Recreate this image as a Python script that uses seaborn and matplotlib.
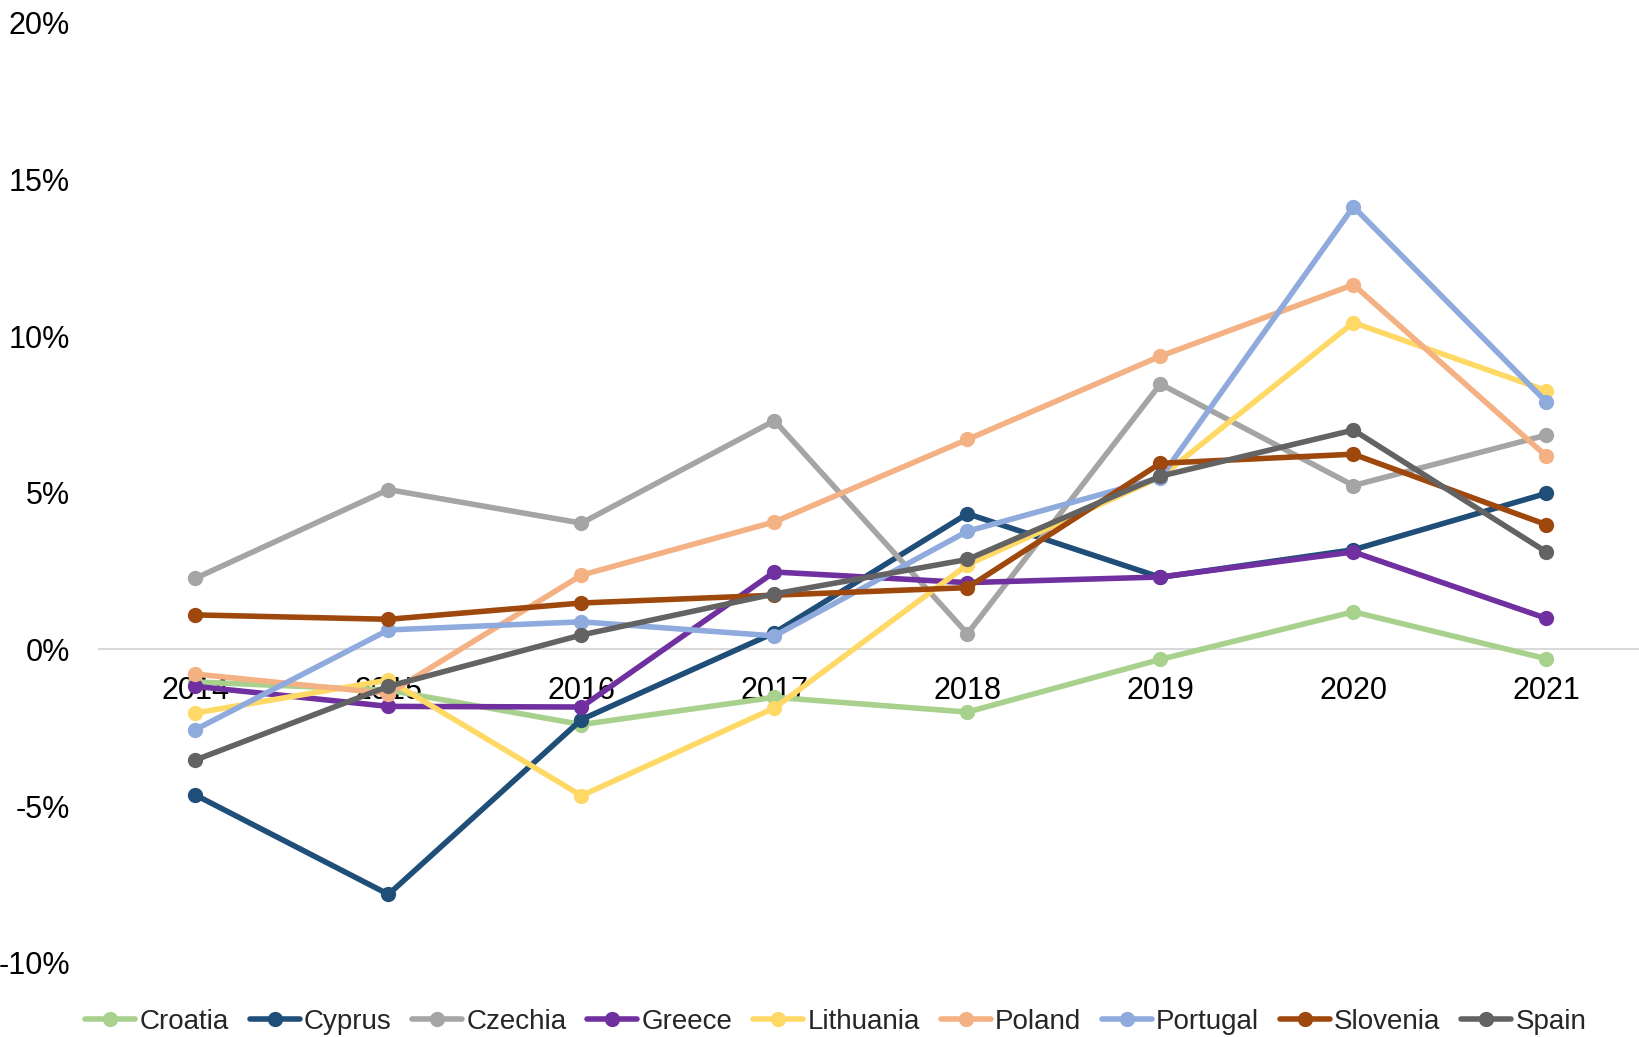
import numpy as np
import pandas as pd
import matplotlib
matplotlib.use("Agg")
import matplotlib.pyplot as plt
from matplotlib import font_manager
from matplotlib.lines import Line2D
import seaborn as sns

years = [2014, 2015, 2016, 2017, 2018, 2019, 2020, 2021]
countries = ["Croatia", "Cyprus", "Czechia", "Greece", "Lithuania",
             "Poland", "Portugal", "Slovenia", "Spain"]

croatia   = [-1.04, -1.30, -2.40, -1.53, -2.00, -0.32, 1.20, -0.30]
cyprus    = [-4.65, -7.82, -2.24, 0.53, 4.33, 2.30, 3.18, 4.98]
czechia   = [2.27, 5.10, 4.03, 7.30, 0.50, 8.47, 5.23, 6.84]
greece    = [-1.18, -1.82, -1.84, 2.47, 2.13, 2.31, 3.11, 0.99]
lithuania = [-2.03, -0.98, -4.67, -1.87, 2.70, 5.50, 10.43, 8.26]
poland    = [-0.79, -1.41, 2.37, 4.07, 6.70, 9.36, 11.64, 6.17]
portugal  = [-2.56, 0.62, 0.88, 0.43, 3.77, 5.47, 14.13, 7.90]
slovenia  = [1.10, 0.96, 1.48, 1.73, 1.97, 5.94, 6.23, 3.98]
spain     = [-3.53, -1.18, 0.46, 1.77, 2.87, 5.53, 7.00, 3.11]

series = [croatia, cyprus, czechia, greece, lithuania, poland, portugal, slovenia, spain]
colors = ["#A9D18E", "#1F4E79", "#A5A5A5", "#7030A0", "#FFD966",
          "#F4B183", "#8FAADC", "#9E480E", "#636363"]
yticks = [-10, -5, 0, 5, 10, 15, 20]

df = pd.DataFrame({
    "year": years * len(countries),
    "country": [c for c in countries for _ in years],
    "value": [v for s in series for v in s],
})

sns.set_style("white")
names = {f.name for f in font_manager.fontManager.ttflist}
fam = "Liberation Sans Narrow" if "Liberation Sans Narrow" in names else "Liberation Sans"
plt.rcParams["font.family"] = [fam, "DejaVu Sans"]

LW = 4.0
MS = 11

fig = plt.figure(figsize=(16.39, 10.37), dpi=100)
ax = fig.add_axes([99 / 1639, 0.0717, 1 - 99 / 1639, 0.978 - 0.0717])

palette = dict(zip(countries, colors))
sns.lineplot(data=df, x="year", y="value", hue="country", hue_order=countries,
             palette=palette, marker="o", markersize=MS, markeredgewidth=0,
             linewidth=LW, legend=False, ax=ax, zorder=3)
for ln in ax.lines:
    ln.set_linewidth(LW)
    ln.set_markersize(MS)
    ln.set_markeredgewidth(0)
    ln.set_solid_joinstyle("round")

ax.set_xlim(2013.5, 2021.48)
ax.set_ylim(-10, 20)
ax.set_yticks(yticks)
ax.set_yticklabels([f"{t}%" for t in yticks])
ax.set_xticks(years)
ax.set_xticklabels([str(y) for y in years])
ax.set_xlabel("")
ax.set_ylabel("")

for s in ["top", "right", "left"]:
    ax.spines[s].set_visible(False)
ax.spines["bottom"].set_position(("data", 0))
ax.spines["bottom"].set_color("#D9D9D9")
ax.spines["bottom"].set_linewidth(1.5)
ax.spines["bottom"].set_zorder(1)

ax.tick_params(axis="x", length=0, pad=19.5, labelsize=22, colors="black")
ax.tick_params(axis="y", length=0, pad=21, labelsize=22, colors="black")
for lbl in ax.get_xticklabels():
    lbl.set_zorder(5)

handles = [Line2D([], [], color=c, lw=LW, marker="o", markersize=MS,
                  markeredgewidth=0) for c in colors]
fig.legend(handles, countries, loc="center", bbox_to_anchor=(0.51, 1 - 1022 / 1037),
           ncol=9, frameon=False, fontsize=20, handlelength=1.8,
           handletextpad=0.15, columnspacing=0.75, borderaxespad=0, borderpad=0)

fig.savefig("out.png", dpi=100)
